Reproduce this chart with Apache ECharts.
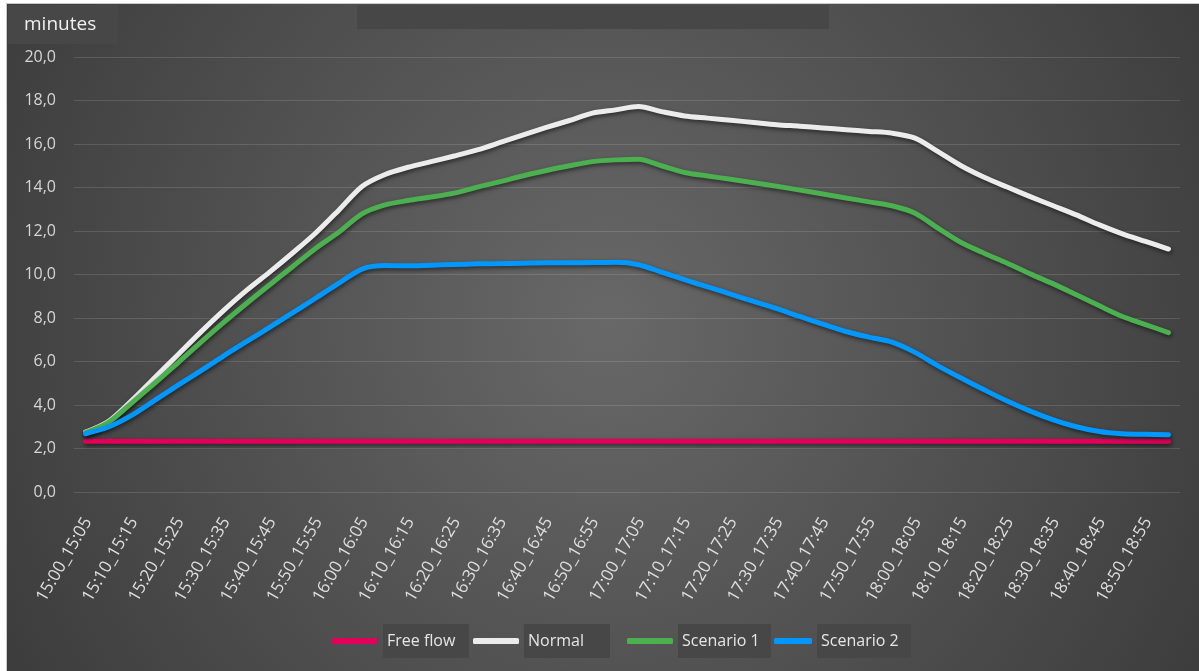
<!DOCTYPE html>
<html>
<head>
<meta charset="utf-8">
<script src="https://cdn.jsdelivr.net/npm/echarts@6/dist/echarts.min.js"></script>
<style>
  html, body { margin: 0; padding: 0; background: #ffffff; }
  #frame {
    position: absolute; left: 6px; top: 3px; width: 1192px; height: 667px;
    border-left: 1px solid #c9c9c9; border-top: 1px solid #c9c9c9;
    background: radial-gradient(ellipse 720px 760px at 600px 320px, #686868 0%, #3a3a3a 100%);
  }
  #chart { width: 1192px; height: 667px; }
</style>
</head>
<body>
<div id="frame"><div id="chart"></div></div>
<script>
// Travel time per 5-minute interval, 15:00 - 19:00
const categories = [
  '15:00_15:05','15:05_15:10','15:10_15:15','15:15_15:20','15:20_15:25','15:25_15:30',
  '15:30_15:35','15:35_15:40','15:40_15:45','15:45_15:50','15:50_15:55','15:55_16:00',
  '16:00_16:05','16:05_16:10','16:10_16:15','16:15_16:20','16:20_16:25','16:25_16:30',
  '16:30_16:35','16:35_16:40','16:40_16:45','16:45_16:50','16:50_16:55','16:55_17:00',
  '17:00_17:05','17:05_17:10','17:10_17:15','17:15_17:20','17:20_17:25','17:25_17:30',
  '17:30_17:35','17:35_17:40','17:40_17:45','17:45_17:50','17:50_17:55','17:55_18:00',
  '18:00_18:05','18:05_18:10','18:10_18:15','18:15_18:20','18:20_18:25','18:25_18:30',
  '18:30_18:35','18:35_18:40','18:40_18:45','18:45_18:50','18:50_18:55','18:55_19:00'
];

const freeFlow = [
  2.33, 2.33, 2.33, 2.33, 2.33, 2.33, 2.33, 2.33, 2.33, 2.33, 2.33, 2.33,
  2.33, 2.33, 2.33, 2.33, 2.33, 2.33, 2.33, 2.33, 2.33, 2.33, 2.33, 2.33,
  2.33, 2.33, 2.33, 2.33, 2.33, 2.33, 2.33, 2.33, 2.33, 2.33, 2.33, 2.33,
  2.33, 2.33, 2.33, 2.33, 2.33, 2.33, 2.33, 2.33, 2.33, 2.33, 2.33, 2.33
];

const normal = [
  2.75, 3.25, 4.20, 5.25, 6.30, 7.35, 8.35, 9.28, 10.12, 11.00, 11.92, 12.97,
  14.05, 14.60, 14.93, 15.19, 15.45, 15.73, 16.07, 16.42, 16.76, 17.08, 17.42, 17.57,
  17.72, 17.49, 17.29, 17.19, 17.09, 16.99, 16.89, 16.82, 16.74, 16.66, 16.58, 16.50,
  16.27, 15.65, 15.00, 14.47, 14.02, 13.58, 13.16, 12.74, 12.28, 11.87, 11.52, 11.17
];

const scenario1 = [
  2.72, 3.20, 4.09, 5.00, 5.93, 6.88, 7.80, 8.68, 9.53, 10.37, 11.21, 11.95,
  12.79, 13.20, 13.40, 13.56, 13.74, 14.02, 14.27, 14.54, 14.78, 15.00, 15.19, 15.27,
  15.30, 15.00, 14.69, 14.53, 14.38, 14.22, 14.06, 13.88, 13.70, 13.52, 13.34, 13.16,
  12.82, 12.13, 11.47, 10.98, 10.52, 10.03, 9.57, 9.07, 8.56, 8.07, 7.70, 7.33
];

const scenario2 = [
  2.68, 2.99, 3.52, 4.21, 4.90, 5.57, 6.26, 6.92, 7.58, 8.25, 8.92, 9.60,
  10.25, 10.41, 10.40, 10.43, 10.46, 10.49, 10.50, 10.52, 10.54, 10.54, 10.55, 10.56,
  10.45, 10.11, 9.76, 9.43, 9.10, 8.76, 8.43, 8.07, 7.72, 7.38, 7.12, 6.89,
  6.42, 5.80, 5.24, 4.70, 4.18, 3.72, 3.32, 3.00, 2.78, 2.68, 2.65, 2.63
];

const seriesNames = ['Free flow', 'Normal', 'Scenario 1', 'Scenario 2'];
const seriesColors = ['#e2005a', '#ececec', '#4caf50', '#0098ff'];
const seriesData = [freeFlow, normal, scenario1, scenario2];

const FONT = '"Open Sans", "Noto Sans", sans-serif';
const BOX = '#474747';

// One legend block per series so each entry sits at its own spot
const legendLayout = [
  { left: 325, itemWidth: 46, boxWidth: 82 },
  { left: 466, itemWidth: 46, boxWidth: 82 },
  { left: 620, itemWidth: 46, boxWidth: 89 },
  { left: 767, itemWidth: 38, boxWidth: 90 }
];

const chart = echarts.init(document.getElementById('chart'), null, { renderer: 'canvas' });

chart.setOption({
  animation: false,
  textStyle: { fontFamily: FONT },
  title: {
    text: 'minutes',
    left: 1, top: 1,
    padding: [10, 22, 10, 16],
    backgroundColor: BOX,
    textStyle: { color: '#f0f0f0', fontSize: 19, fontWeight: 'normal', fontFamily: FONT }
  },
  graphic: [{
    type: 'rect',
    left: 350, top: 1,
    shape: { width: 472, height: 24 },
    style: { fill: BOX }
  }],
  legend: legendLayout.map((l, i) => ({
    data: [{ name: seriesNames[i], icon: 'roundRect' }],
    left: l.left,
    top: 620,
    padding: 0,
    itemWidth: l.itemWidth,
    itemHeight: 6,
    selectedMode: false,
    textStyle: {
      color: '#e6e6e6', fontSize: 16, fontFamily: FONT,
      backgroundColor: BOX,
      padding: [7, 0, 7, 4],
      width: l.boxWidth, height: 20, lineHeight: 20
    }
  })),
  grid: { left: 67, right: 19, top: 53, bottom: 179, containLabel: false },
  xAxis: {
    type: 'category',
    data: categories,
    boundaryGap: true,
    axisLine: { show: false },
    axisTick: { show: false },
    axisLabel: {
      interval: 1,
      rotate: 60,
      margin: 14,
      align: 'right',
      verticalAlign: 'top',
      padding: [0, 10, 0, 0],
      color: '#dedede',
      fontSize: 17,
      fontFamily: FONT
    },
    splitLine: { show: false }
  },
  yAxis: {
    type: 'value',
    min: 0, max: 20, interval: 2,
    axisLine: { show: false },
    axisTick: { show: false },
    axisLabel: {
      margin: 18,
      color: '#d6d6d6',
      fontSize: 16,
      fontFamily: FONT,
      formatter: v => v.toFixed(1).replace('.', ',')
    },
    splitLine: { lineStyle: { color: 'rgba(255,255,255,0.13)', width: 1 } }
  },
  series: seriesNames.map((name, i) => ({
    name: name,
    type: 'line',
    data: seriesData[i],
    smooth: 0.3,
    showSymbol: false,
    symbol: 'none',
    color: seriesColors[i],
    lineStyle: {
      width: 5,
      color: seriesColors[i],
      cap: 'round',
      join: 'round',
      shadowColor: 'rgba(0,0,0,0.55)',
      shadowBlur: 4,
      shadowOffsetX: 1,
      shadowOffsetY: 2
    }
  }))
});
</script>
</body>
</html>
